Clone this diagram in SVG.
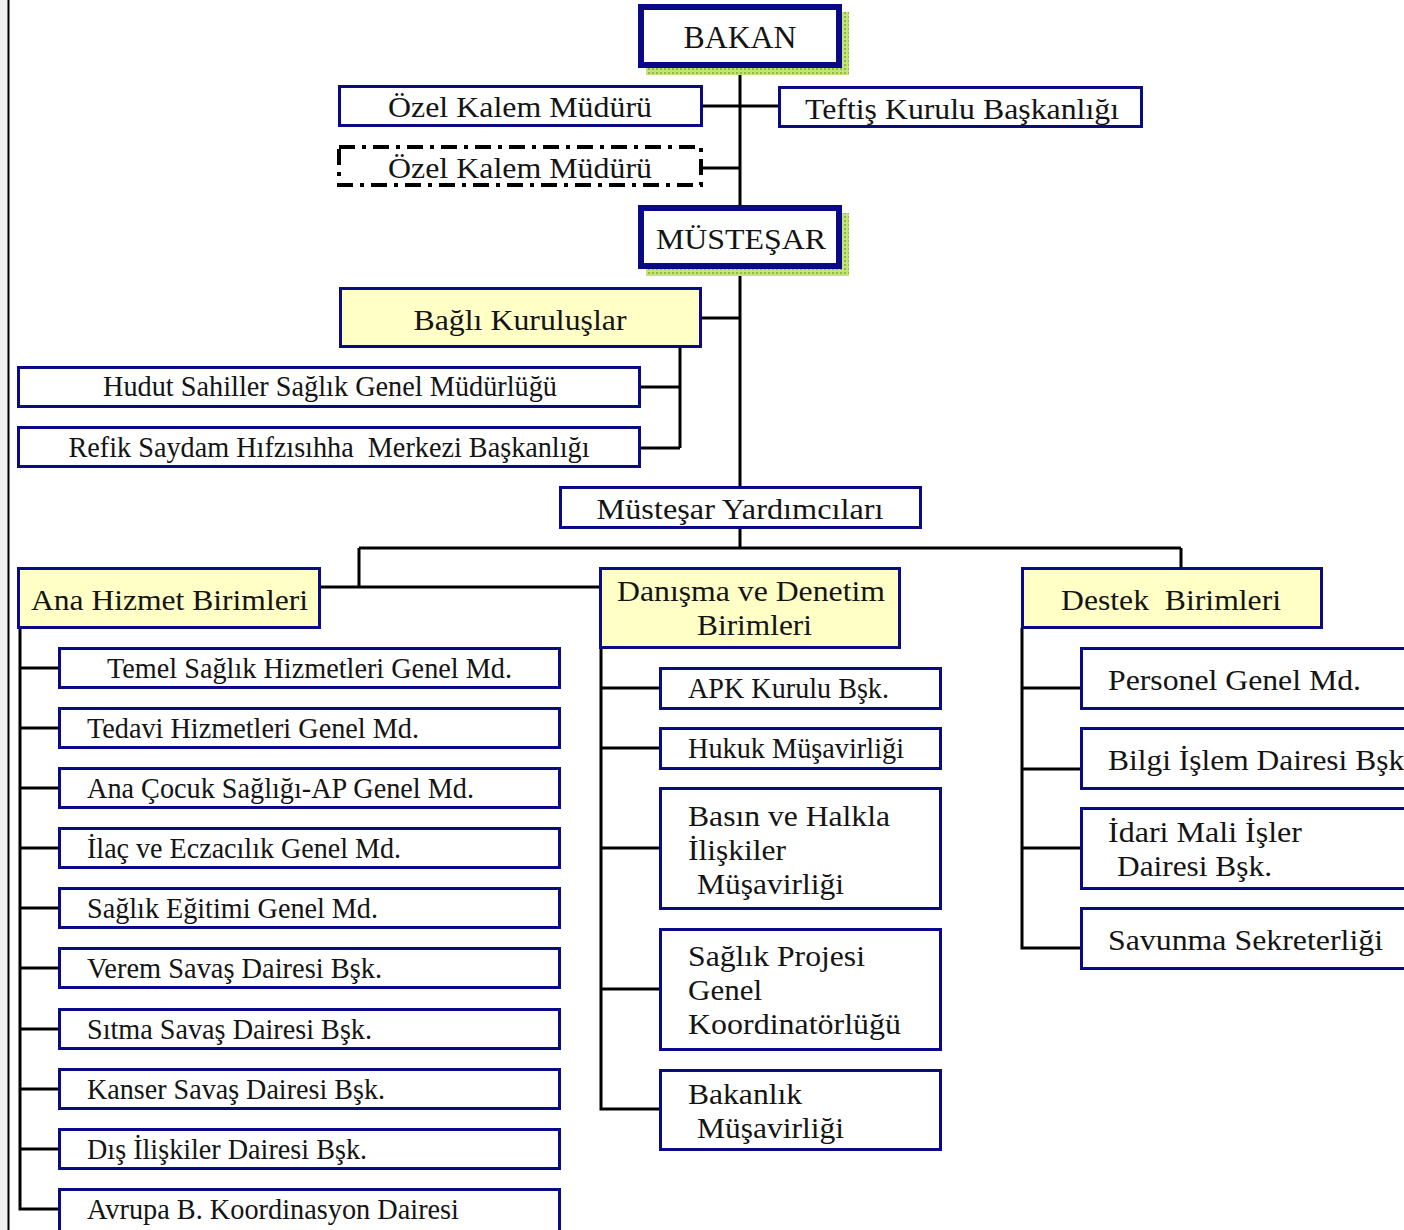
<svg xmlns="http://www.w3.org/2000/svg" width="1404" height="1230" viewBox="0 0 1404 1230">
<defs>
<style>
.t{font-family:"Liberation Serif","Times New Roman",serif;font-size:29px;fill:#141414}
.c{text-anchor:middle}
.box{fill:#fff;stroke:#0a0a86;stroke-width:3}
.yel{fill:#ffffc6;stroke:#0a0a86;stroke-width:3}
.big{fill:#fff;stroke:#0a0a86;stroke-width:6}
.ln{fill:none;stroke:#000;stroke-width:3}
.dash{fill:#fff;stroke:#000;stroke-width:4;stroke-dasharray:16 7 4 7}
</style>
<pattern id="dots" width="4" height="4" patternUnits="userSpaceOnUse">
<rect width="4" height="4" fill="#c6e27e"/>
<rect width="2" height="2" fill="#8cbf2e"/>
</pattern>
</defs>
<rect x="0" y="0" width="1404" height="1230" fill="#fff"/>
<rect x="0" y="0" width="8" height="1230" fill="#f1f1f1"/>
<line x1="8.5" y1="0" x2="8.5" y2="1230" stroke="#000" stroke-width="2"/>

<g id="connectors">
<path class="ln" d="M740 68V205M701 106H779M701 168H740M740 268V487M701 318H740M680 347V448M639 387H680M639 448H680M740 528V548M359 548H1181M359 548V587M320 587H600M1181 548V568"/>
<path class="ln" d="M20 628V1209H59M20 668H59M20 728H59M20 788H59M20 848H59M20 908H59M20 968H59M20 1029H59M20 1089H59M20 1149H59"/>
<path class="ln" d="M601 648V1109H660M601 688H660M601 748H660M601 848H660M601 989H660"/>
<path class="ln" d="M1022 628V948H1081M1022 688H1081M1022 769H1081M1022 848H1081"/>
</g>

<g id="bakan">
<rect fill="url(#dots)" x="646" y="12" width="203" height="63"/>
<rect class="big" x="641" y="7" width="198" height="58"/>
<text class="t c" x="740" y="48" style="font-size:31px" textLength="113" lengthAdjust="spacingAndGlyphs">BAKAN</text>
</g>
<g id="ozel-kalem">
<rect class="box" x="339.5" y="86.5" width="362" height="39"/>
<text class="t c" x="520" y="117" textLength="264" lengthAdjust="spacingAndGlyphs">Özel Kalem Müdürü</text>
</g>
<g id="teftis">
<rect class="box" x="779.5" y="87.5" width="362" height="39"/>
<text class="t c" x="962" y="119" textLength="314" lengthAdjust="spacingAndGlyphs">Teftiş Kurulu Başkanlığı</text>
</g>
<g id="ozel-kalem-2">
<rect class="dash" x="339" y="147" width="362" height="38"/>
<text class="t c" x="520" y="178" textLength="264" lengthAdjust="spacingAndGlyphs">Özel Kalem Müdürü</text>
</g>
<g id="mustesar">
<rect fill="url(#dots)" x="646" y="213" width="203" height="63"/>
<rect class="big" x="641" y="208" width="198" height="58"/>
<text class="t c" x="741" y="249" style="font-size:30px" textLength="170" lengthAdjust="spacingAndGlyphs">MÜSTEŞAR</text>
</g>
<g id="bagli">
<rect class="yel" x="340.5" y="288.5" width="360" height="58"/>
<text class="t c" x="520" y="330" textLength="213" lengthAdjust="spacingAndGlyphs">Bağlı Kuruluşlar</text>
</g>
<g id="hudut">
<rect class="box" x="18.5" y="367.5" width="621" height="39"/>
<text class="t c" x="330" y="396" textLength="454" lengthAdjust="spacingAndGlyphs">Hudut Sahiller Sağlık Genel Müdürlüğü</text>
</g>
<g id="refik">
<rect class="box" x="18.5" y="427.5" width="621" height="39"/>
<text class="t c" x="329" y="457" textLength="521" lengthAdjust="spacingAndGlyphs" xml:space="preserve">Refik Saydam Hıfzısıhha  Merkezi Başkanlığı</text>
</g>
<g id="mustesar-yard">
<rect class="box" x="560.5" y="487.5" width="360" height="40"/>
<text class="t c" x="740" y="519" textLength="287" lengthAdjust="spacingAndGlyphs">Müsteşar Yardımcıları</text>
</g>

<g id="ana-hizmet">
<rect class="yel" x="18.5" y="568.5" width="301" height="59"/>
<text class="t" x="31" y="610" textLength="277" lengthAdjust="spacingAndGlyphs">Ana Hizmet Birimleri</text>
</g>
<g id="danisma">
<rect class="yel" x="600.5" y="568.5" width="299" height="79"/>
<text class="t" x="617" y="601" textLength="268" lengthAdjust="spacingAndGlyphs">Danışma ve Denetim</text>
<text class="t" x="697" y="635" textLength="115" lengthAdjust="spacingAndGlyphs">Birimleri</text>
</g>
<g id="destek">
<rect class="yel" x="1022.5" y="568.5" width="299" height="59"/>
<text class="t" x="1061" y="610" xml:space="preserve" textLength="220" lengthAdjust="spacingAndGlyphs">Destek  Birimleri</text>
</g>

<g id="temel"><rect class="box" x="59.5" y="648.5" width="500" height="39"/><text class="t" x="107" y="678" textLength="405" lengthAdjust="spacingAndGlyphs">Temel Sağlık Hizmetleri Genel Md.</text></g>
<g id="tedavi"><rect class="box" x="59.5" y="708.5" width="500" height="39"/><text class="t" x="87" y="738" textLength="332" lengthAdjust="spacingAndGlyphs">Tedavi Hizmetleri Genel Md.</text></g>
<g id="ana-cocuk"><rect class="box" x="59.5" y="768.5" width="500" height="39"/><text class="t" x="87" y="798" textLength="387" lengthAdjust="spacingAndGlyphs">Ana Çocuk Sağlığı-AP Genel Md.</text></g>
<g id="ilac"><rect class="box" x="59.5" y="828.5" width="500" height="39"/><text class="t" x="87" y="858" textLength="314" lengthAdjust="spacingAndGlyphs">İlaç ve Eczacılık Genel Md.</text></g>
<g id="saglik-egitimi"><rect class="box" x="59.5" y="888.5" width="500" height="39"/><text class="t" x="87" y="918" textLength="291" lengthAdjust="spacingAndGlyphs">Sağlık Eğitimi Genel Md.</text></g>
<g id="verem"><rect class="box" x="59.5" y="948.5" width="500" height="39"/><text class="t" x="87" y="978" textLength="295" lengthAdjust="spacingAndGlyphs">Verem Savaş Dairesi Bşk.</text></g>
<g id="sitma"><rect class="box" x="59.5" y="1009.5" width="500" height="39"/><text class="t" x="87" y="1039" textLength="285" lengthAdjust="spacingAndGlyphs">Sıtma Savaş Dairesi Bşk.</text></g>
<g id="kanser"><rect class="box" x="59.5" y="1069.5" width="500" height="39"/><text class="t" x="87" y="1099" textLength="298" lengthAdjust="spacingAndGlyphs">Kanser Savaş Dairesi Bşk.</text></g>
<g id="dis-iliskiler"><rect class="box" x="59.5" y="1129.5" width="500" height="39"/><text class="t" x="87" y="1159" textLength="280" lengthAdjust="spacingAndGlyphs">Dış İlişkiler Dairesi Bşk.</text></g>
<g id="avrupa"><rect class="box" x="59.5" y="1189.5" width="500" height="42"/><text class="t" x="87" y="1219" textLength="372" lengthAdjust="spacingAndGlyphs">Avrupa B. Koordinasyon Dairesi</text></g>

<g id="apk"><rect class="box" x="660.5" y="668.5" width="280" height="40"/><text class="t" x="688" y="698" textLength="201" lengthAdjust="spacingAndGlyphs">APK Kurulu Bşk.</text></g>
<g id="hukuk"><rect class="box" x="660.5" y="728.5" width="280" height="40"/><text class="t" x="688" y="758" textLength="216" lengthAdjust="spacingAndGlyphs">Hukuk Müşavirliği</text></g>
<g id="basin"><rect class="box" x="660.5" y="788.5" width="280" height="120"/>
<text class="t" x="688" y="826" textLength="202" lengthAdjust="spacingAndGlyphs">Basın ve Halkla</text><text class="t" x="688" y="860" textLength="98" lengthAdjust="spacingAndGlyphs">İlişkiler</text><text class="t" x="697" y="894" textLength="147" lengthAdjust="spacingAndGlyphs">Müşavirliği</text></g>
<g id="saglik-projesi"><rect class="box" x="660.5" y="929.5" width="280" height="120"/>
<text class="t" x="688" y="966" textLength="177" lengthAdjust="spacingAndGlyphs">Sağlık Projesi</text><text class="t" x="688" y="1000" textLength="74" lengthAdjust="spacingAndGlyphs">Genel</text><text class="t" x="688" y="1034" textLength="213" lengthAdjust="spacingAndGlyphs">Koordinatörlüğü</text></g>
<g id="bakanlik-musavirligi"><rect class="box" x="660.5" y="1070.5" width="280" height="79"/>
<text class="t" x="688" y="1104" textLength="114" lengthAdjust="spacingAndGlyphs">Bakanlık</text><text class="t" x="697" y="1138" textLength="147" lengthAdjust="spacingAndGlyphs">Müşavirliği</text></g>

<g id="personel"><rect class="box" x="1081.5" y="648.5" width="340" height="60"/><text class="t" x="1108" y="690" textLength="253" lengthAdjust="spacingAndGlyphs">Personel Genel Md.</text></g>
<g id="bilgi-islem"><rect class="box" x="1081.5" y="728.5" width="340" height="60"/><text class="t" x="1108" y="770" textLength="304" lengthAdjust="spacingAndGlyphs">Bilgi İşlem Dairesi Bşk.</text></g>
<g id="idari-mali"><rect class="box" x="1081.5" y="808.5" width="340" height="80"/>
<text class="t" x="1108" y="842" textLength="194" lengthAdjust="spacingAndGlyphs">İdari Mali İşler</text><text class="t" x="1117" y="876" textLength="155" lengthAdjust="spacingAndGlyphs">Dairesi Bşk.</text></g>
<g id="savunma"><rect class="box" x="1081.5" y="908.5" width="340" height="60"/><text class="t" x="1108" y="950" textLength="275" lengthAdjust="spacingAndGlyphs">Savunma Sekreterliği</text></g>
</svg>
